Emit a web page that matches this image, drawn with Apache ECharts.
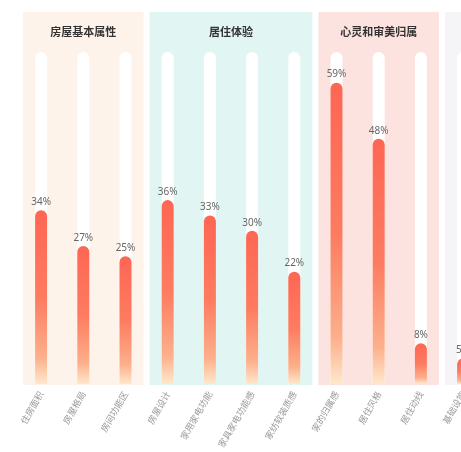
<!DOCTYPE html>
<html><head><meta charset="utf-8">
<script src="https://cdn.jsdelivr.net/npm/echarts@6/dist/echarts.min.js"></script>
<style>html,body{margin:0;padding:0;background:#fff}#c{width:461px;height:452px}</style>
</head><body><div id="c"></div>
<script>
const categories = ['住房面积','房屋格局','房间功能区','房屋设计','家用家电功能','家具家电功能感','家纺软装质感','家的归属感','居住风格','居住动线','基础设施'];
const values = [34,27,25,36,33,30,22,59,48,8,5];
const groupNames = ['房屋基本属性','居住体验','心灵和审美归属',''];
const groupStart = [0,3,7,10];
const groupEnd = [2,6,9,10];
const groupColors = ['#fdf3eb','#e1f5f2','#fde3df','#f5f5f8'];
const axisMax = 65;

const chart = echarts.init(document.getElementById('c'), null, {renderer:'canvas'});
const groupData = groupStart.map((s,i)=>[s, groupEnd[i], i]);
chart.setOption({
  animation:false,
  textStyle:{fontFamily:'"Noto Sans CJK SC", "Noto Sans", sans-serif'},
  grid:{left:20, top:52, bottom:68, width: 42.2*categories.length, containLabel:false, outerBoundsMode:'none'},
  xAxis:{type:'category', data:categories,
    axisLine:{show:false}, axisTick:{show:false},
    axisLabel:{rotate:60, interval:0, color:'#9a9a9a', fontSize:9, margin:8}},
  yAxis:{type:'value', min:0, max:axisMax, show:false, splitLine:{show:false}},
  series:[
    {type:'custom', z:1, clip:false, silent:true,
     encode:{x:[0,1]},
     data:groupData,
     renderItem:function(params, api){
       const s = api.value(0), e = api.value(1), gi = api.value(2);
       const p0 = api.coord([s, axisMax]);
       const p1 = api.coord([e, 0]);
       const bw = api.size([1,0])[0];
       const x0 = p0[0]-bw/2+3, x1 = p1[0]+bw/2-3;
       return {type:'group', children:[
         {type:'rect', shape:{x:x0, y:p0[1]-40, width:x1-x0, height:p1[1]-p0[1]+41}, style:{fill:groupColors[gi]}},
         {type:'text', style:{text:groupNames[gi], x:(x0+x1)/2, y:p0[1]-20, align:'center', verticalAlign:'middle', fill:'#333', fontSize:11, fontWeight:'bold', fontFamily:'"Noto Sans CJK SC"'}}
       ]};
     }},
    {type:'bar', z:3, data:values, barWidth:12,
     showBackground:true,
     backgroundStyle:{color:'#ffffff', borderRadius:[6,6,0,0]},
     itemStyle:{borderRadius:[6,6,0,0],
       color:new echarts.graphic.LinearGradient(0,0,0,1,[
         {offset:0,color:'#fe6654'},{offset:0.5,color:'#fd7b60'},{offset:0.85,color:'#fcb08c'},{offset:1,color:'#fee8cc'}])},
     label:{show:true, position:'top', distance:3, formatter:'{c}%', color:'#666', fontSize:10, fontFamily:'"Noto Sans", sans-serif'}}
  ]
});
</script></body></html>
